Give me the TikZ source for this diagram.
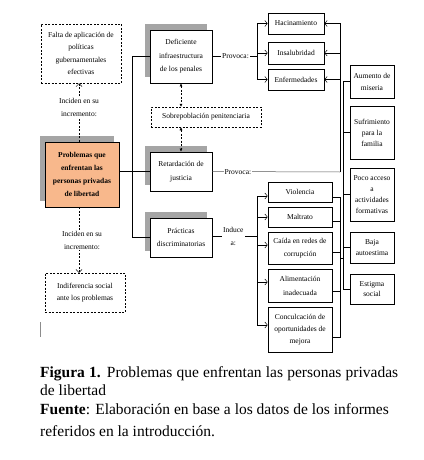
\documentclass[tikz,border=0pt]{standalone}
\usepackage{fontspec}
\setmainfont{Liberation Serif}
\usetikzlibrary{arrows.meta,shadows}
\definecolor{probfill}{RGB}{248,184,140}
\definecolor{shadowgray}{RGB}{165,165,165}
\tikzset{
  box/.style={draw, line width=0.7pt, fill=white, align=center, inner sep=0pt,
    font=\fontsize{7.5}{12.5}\selectfont},
  rbox/.style={box, font=\fontsize{7.5}{11}\selectfont},
  dbox/.style={box, line width=0.5pt, dash pattern=on 2pt off 1.5pt},
  shad/.style={general shadow={fill=shadowgray, shadow xshift=-5pt, shadow yshift=6pt}},
  lab/.style={align=center, inner sep=1pt, fill=white, font=\fontsize{7.5}{13}\selectfont},
  conn/.style={line width=0.5pt},
  arr/.style={conn, -{Straight Barb[length=2.5pt,width=6pt]}},
  dline/.style={conn, dash pattern=on 2pt off 1.5pt},
  darr/.style={dline, {Latex[length=3pt,width=3pt]}-{Latex[length=3pt,width=3pt]}},
  captxt/.style={anchor=base west, inner sep=0pt, font=\fontsize{15.5}{19}\selectfont}
}
\begin{document}
\begin{tikzpicture}[x=1pt,y=-1pt]
\useasboundingbox[fill=white] (0,0) rectangle (423,460);

% left / centre boxes
\node[dbox,minimum width=80pt,minimum height=59pt] (falta) at (81,53.5) {Falta de aplicación de\\políticas\\gubernamentales\\efectivas};
\node[box,shad,minimum width=62pt,minimum height=53pt,font=\fontsize{7.5}{13.5}\selectfont] (defi) at (181,56.5) {Deficiente\\infraestructura\\de los penales};
\node[dbox,minimum width=110pt,minimum height=20pt] (sobre) at (206,117) {Sobrepoblación penitenciaria};
\node[box,shad,fill=probfill,minimum width=74pt,minimum height=65pt,font=\bfseries\fontsize{7.5}{13}\selectfont] (prob) at (82,174.5) {Problemas que\\enfrentan las\\personas privadas\\de libertad};
\node[box,shad,minimum width=62pt,minimum height=39pt,font=\fontsize{7.5}{14}\selectfont] (retard) at (181,171.5) {Retardación de\\justicia};
\node[box,shad,minimum width=62pt,minimum height=39pt,font=\fontsize{7.5}{13}\selectfont] (pract) at (181,237.5) {Prácticas\\discriminatorias};
\node[dbox,minimum width=80pt,minimum height=39pt,font=\fontsize{7.5}{12}\selectfont] (indif) at (85,292.5) {Indiferencia social\\ante los problemas};

% top group
\node[box,minimum width=56pt,minimum height=21pt] (hac) at (296,23.5) {Hacinamiento};
\node[box,minimum width=56pt,minimum height=22pt] (insal) at (296,53) {Insalubridad};
\node[box,minimum width=56pt,minimum height=21pt] (enf) at (296,79.5) {Enfermedades};

% right column
\node[rbox,minimum width=44pt,minimum height=33pt,font=\fontsize{7.5}{12}\selectfont] (aum) at (372,81.5) {Aumento de\\miseria};
\node[rbox,minimum width=44pt,minimum height=53pt] (suf) at (372,132.5) {Sufrimiento\\para la\\familia};
\node[rbox,minimum width=44pt,minimum height=53pt] (poco) at (372,194.5) {Poco acceso\\a\\actividades\\formativas};
\node[rbox,minimum width=44pt,minimum height=31pt] (baja) at (372,247.5) {Baja\\autoestima};
\node[rbox,minimum width=44pt,minimum height=30pt,font=\fontsize{7.5}{10.5}\selectfont] (estig) at (372,289) {Estigma\\social};

% lower group
\node[box,minimum width=64pt,minimum height=20pt] (viol) at (300,192) {Violencia};
\node[box,minimum width=64pt,minimum height=20pt] (malt) at (300,217) {Maltrato};
\node[box,minimum width=64pt,minimum height=32pt,font=\fontsize{7.5}{13}\selectfont] (caida) at (300,248) {Caída en redes de\\corrupción};
\node[box,minimum width=64pt,minimum height=33pt,font=\fontsize{7.5}{14}\selectfont] (alim) at (300,285.5) {Alimentación\\inadecuada};
\node[box,minimum width=64pt,minimum height=45pt,font=\fontsize{7.5}{12}\selectfont] (concul) at (300,329.5) {Conculcación de\\oportunidades de\\mejora};

% dashed influence arrows
\coordinate (pt) at ([xshift=-3pt]prob.north);
\coordinate (pb) at ([xshift=-3pt]prob.south);
\draw[dline,-{Straight Barb[length=3pt,width=6pt]}] (pt) -- node[lab,pos=0.58] (inc1) {Inciden en su\\incremento:} (pt |- falta.south);
\draw[dline,-{Straight Barb[length=3pt,width=6pt]}] (pb) -- node[lab,pos=0.5,xshift=3pt] (inc2) {Inciden en su\\incremento:} (pb |- indif.north);

% sobrepoblacion double arrows
\draw[darr] (defi.south) -- (defi.south |- sobre.north);
\draw[darr] (retard.north |- sobre.south) -- (retard.north);

% left bus and central link
\draw[conn] (defi.west) -- ++(-17,0) |- (pract.west);
\draw[conn] (prob.east |- retard.west) -- (retard.west);

% Provoca (top)
\coordinate (j1) at (257,56.5);
\draw[conn] (defi.east) -- node[lab,pos=0.52] (prov1) {Provoca:} (j1);
\draw[arr] (j1) |- (hac.west);
\draw[arr] (j1) |- (insal.west);
\draw[arr] (j1) |- (enf.west);

% Provoca (retardacion) and right bus
\coordinate (j2) at (340,172);
\draw[conn,black!65] (retard.east) -- node[lab,pos=0.2,text=black] (prov2) {Provoca:} (j2);
\draw[conn] (j2) -- (j2 |- hac.east);
\draw[arr] (j2 |- hac.east) -- (hac.east);
\draw[arr] (j2 |- insal.east) -- (insal.east);
\draw[arr] (j2 |- enf.east) -- (enf.east);

% right column bus
\draw[conn] (aum.west) -- ++(-6,0) |- (estig.west);
\draw[conn] (suf.west) -- ++(-6,0);
\draw[conn] (poco.west) -- ++(-6,0);
\draw[conn] (baja.west) -- ++(-6,0);

% lower collector bus
\draw[conn] ([yshift=-5pt]viol.east) -- ++(8,0) |- ([yshift=-7.5pt]concul.east);
\draw[conn] ([yshift=-4pt]malt.east) -- ++(8,0);
\draw[conn] ([yshift=-4pt]caida.east) -- ++(8,0);
\draw[conn] ([yshift=-5.5pt]alim.east) -- ++(8,0);
\coordinate (lk) at (340,258);
\draw[conn] (lk) -- ++(4,0);

% Induce a
\coordinate (j3) at (257,236);
\coordinate (tv) at ([yshift=-4pt]viol.west);
\coordinate (tm) at (malt.west);
\coordinate (tc) at ([yshift=3pt]caida.west);
\coordinate (ta) at ([yshift=3.5pt]alim.west);
\coordinate (tk) at ([yshift=4.5pt]concul.west);
\draw[conn] (pract.east |- j3) -- node[lab,pos=0.47] (ind) {Induce\\a:} (j3);
\draw[arr] (j3) |- (tv);
\draw[arr] (j3) |- (tm);
\draw[arr] (j3) |- (tc);
\draw[arr] (j3) |- (ta);
\draw[arr] (j3) |- (tk);

% small mark
\draw[black!45, line width=0.6pt] (40,322) -- (40,337);

% caption
\node[captxt] (cap1) at (40,377) {\makebox[358pt][s]{\textbf{Figura 1.} Problemas que enfrentan las personas privadas}};
\node[captxt] (cap2) at (40,395) {de libertad};
\node[captxt] (cap3) at (40,414) {\textbf{Fuente}: Elaboración en base a los datos de los informes};
\node[captxt] (cap4) at (40,436) {referidos en la introducción.};
\end{tikzpicture}
\end{document}
